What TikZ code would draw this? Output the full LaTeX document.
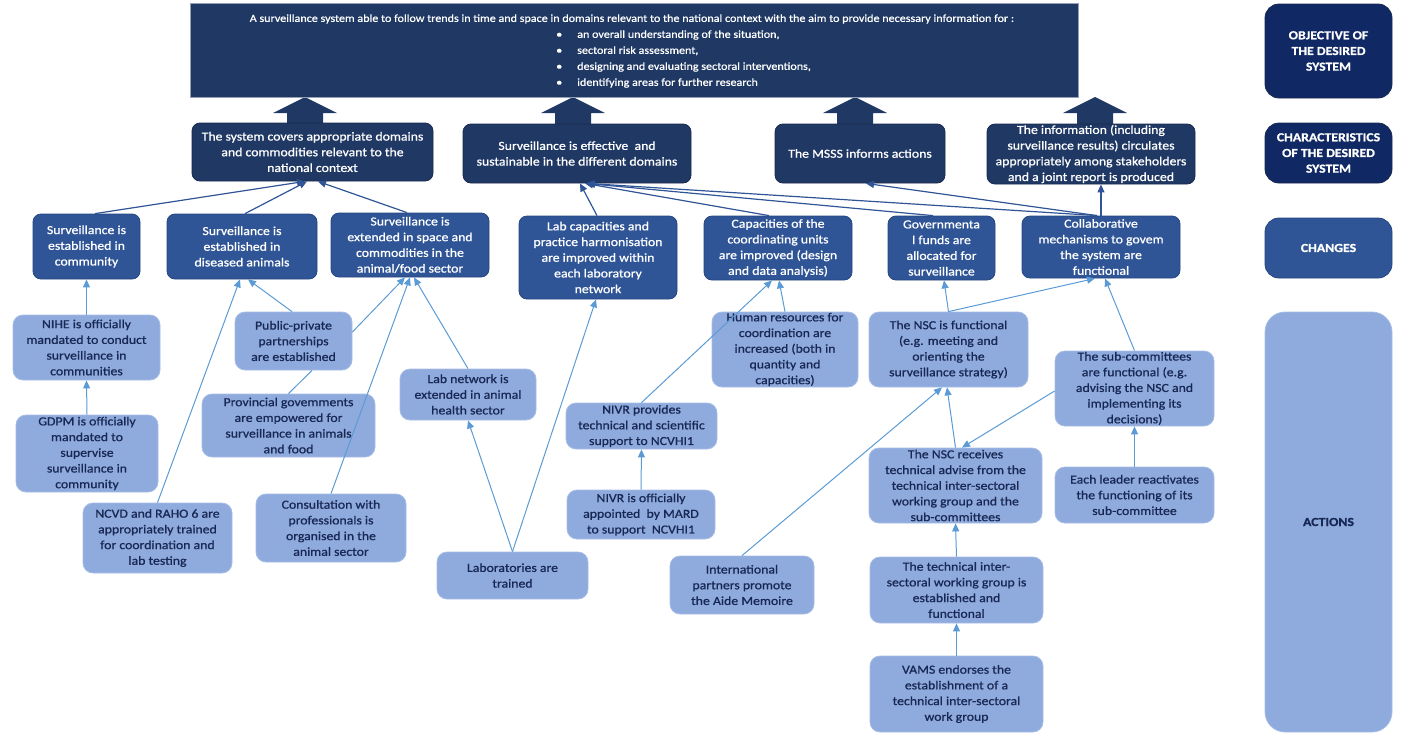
\documentclass[tikz,border=0pt]{standalone}
\usepackage{fontspec}
\setmainfont{Carlito}[FakeStretch=1.12, RawFeature={embolden=0.8}]
\usepackage{tikz}
\usepackage{xcolor}
\usetikzlibrary{arrows.meta}
\usetikzlibrary{positioning}

\begin{document}
\begin{tikzpicture}[x=1pt, y=-1pt,
		box/.style={rounded corners=8pt, align=center, inner sep=0pt, line width=0.8pt, font=\fontsize{12.3}{15.7}\selectfont},
		objbox/.style={box, rounded corners=0pt, fill=NAVY, draw=OBJ_EDGE, text=white},
		charbox/.style={box, fill=NAVY, draw=NAVY_EDGE, text=white},
		changebox/.style={box, fill=MID_BLUE, draw=MID_EDGE, text=white},
		actionbox/.style={box, rounded corners=10pt, fill=LIGHT_BLUE, draw=LIGHT_EDGE, text=DARK_TEXT},
		labelbox/.style={box, rounded corners=14pt, text=white, font=\fontsize{12.3}{15.7}\selectfont\bfseries},
		link/.style={-{Triangle[length=8pt, width=7pt]}, line width=1pt, color=LINE_BLUE},
		uplink/.style={-{Triangle[length=8pt, width=7pt]}, line width=1.2pt, color=UP_BLUE}]
				\definecolor{NAVY}{RGB}{32, 56, 100}
				\definecolor{NAVY_EDGE}{RGB}{24, 42, 78}
				\definecolor{OBJ_EDGE}{RGB}{150, 160, 180}
				\definecolor{LABEL_NAVY}{RGB}{16, 40, 100}
				\definecolor{MID_BLUE}{RGB}{47, 85, 151}
				\definecolor{MID_EDGE}{RGB}{38, 70, 128}
				\definecolor{LIGHT_BLUE}{RGB}{143, 170, 220}
				\definecolor{LIGHT_EDGE}{RGB}{166, 189, 230}
				\definecolor{DARK_TEXT}{RGB}{24, 40, 84}
				\definecolor{LINE_BLUE}{RGB}{91, 155, 213}
				\definecolor{UP_BLUE}{RGB}{47, 85, 151}
				\useasboundingbox (0,0) rectangle (1403,737);

				% block arrows up to the objective
				\foreach \xc in {305, 573, 855, 1095} {
					\fill[NAVY] (\xc-18,127) -- (\xc-18,113) -- (\xc-32,113) -- (\xc,97) -- (\xc+32,113) -- (\xc+18,113) -- (\xc+18,127) -- cycle;
				}

				% objective
				\node[objbox, minimum width=888pt, minimum height=94pt] (objective) at (634,50) {};
				\node[text=white, inner sep=0pt, font=\fontsize{10.8}{16}\selectfont] (objhead) at (632,19) {A surveillance system able to follow trends in time and space in domains relevant to the national context with the aim to provide necessary information for :};
				\node[text=white, inner sep=0pt, align=left, anchor=west, font=\fontsize{10.8}{16}\selectfont] (objlist) at (556,59) {\textbullet\hspace{15pt}an overall understanding of the situation,\\
					\textbullet\hspace{15pt}sectoral risk assessment,\\
					\textbullet\hspace{15pt}designing and evaluating sectoral interventions,\\
					\textbullet\hspace{15pt}identifying areas for further research};

				% right column
				\node[labelbox, fill=LABEL_NAVY, draw=NAVY_EDGE, minimum width=127pt, minimum height=94pt] (lobjective) at (1328.5,51) {OBJECTIVE OF\\THE DESIRED\\SYSTEM};
				\node[labelbox, fill=LABEL_NAVY, draw=NAVY_EDGE, minimum width=127pt, minimum height=60pt] (lcharacter) at (1328.5,153) {CHARACTERISTICS\\OF THE DESIRED\\SYSTEM};
				\node[labelbox, fill=MID_BLUE, draw=MID_EDGE, minimum width=127pt, minimum height=60pt] (lchanges) at (1328.5,248) {CHANGES};
				\node[labelbox, rounded corners=20pt, fill=LIGHT_BLUE, draw=LIGHT_EDGE, text=DARK_TEXT, minimum width=127pt, minimum height=420pt] (lactions) at (1328.5,522) {ACTIONS};

				% characteristics
				\node[charbox, minimum width=241pt, minimum height=58pt] (cover) at (312.5,152) {The system covers appropriate domains\\and commodities relevant to the\\national context};
				\node[charbox, minimum width=228pt, minimum height=59pt] (effect) at (577,153.5) {Surveillance is effective\ \ and\\sustainable in the different domains};
				\node[charbox, minimum width=170pt, minimum height=59pt] (msss) at (860,153.5) {The MSSS informs actions};
				\node[charbox, minimum width=208pt, minimum height=60pt] (info) at (1091,154) {The information (including\\surveillance results) circulates\\appropriately among stakeholders\\and a joint report is produced};

				% changes
				\node[changebox, minimum width=107pt, minimum height=65pt] (community) at (86.5,246.5) {Surveillance is\\established in\\community};
				\node[changebox, minimum width=150pt, minimum height=65pt] (diseased) at (242,246.5) {Surveillance is\\established in\\diseased animals};
				\node[changebox, minimum width=158pt, minimum height=64pt] (extended) at (410,245) {Surveillance is\\extended in space and\\commodities in the\\animal/food sector};
				\node[changebox, minimum width=158pt, minimum height=83pt] (labcap) at (598,257.5) {Lab capacities and\\practice harmonisation\\are improved within\\each laboratory\\network};
				\node[changebox, minimum width=148pt, minimum height=64pt] (coord) at (778,248) {Capacities of the\\coordinating units\\are improved (design\\and data analysis)};
				\node[changebox, minimum width=107pt, minimum height=64pt] (funds) at (941.5,248) {Governmenta\\l funds are\\allocated for\\surveillance};
				\node[changebox, minimum width=158pt, minimum height=62pt] (collab) at (1101,247) {Collaborative\\mechanisms to govem\\the system are\\functional};

				% actions
				\node[actionbox, minimum width=147pt, minimum height=65pt] (nihe) at (86.5,347.5) {NIHE is officially\\mandated to conduct\\surveillance in\\communities};
				\node[actionbox, minimum width=142pt, minimum height=77pt] (gdpm) at (87,453.5) {GDPM is officially\\mandated to\\supervise\\surveillance in\\community};
				\node[actionbox, minimum width=117pt, minimum height=58pt] (ppp) at (293.5,341) {Public-private\\partnerships\\are established};
				\node[actionbox, minimum width=173pt, minimum height=63pt] (provincial) at (288.5,425.5) {Provincial govemments\\are empowered for\\surveillance in animals\\and food};
				\node[actionbox, minimum width=136pt, minimum height=51pt] (labnet) at (468,394.5) {Lab network is\\extended in animal\\health sector};
				\node[actionbox, minimum width=149pt, minimum height=70pt] (ncvd) at (157.5,538) {NCVD and RAHO 6 are\\appropriately trained\\for coordination and\\lab testing};
				\node[actionbox, minimum width=150pt, minimum height=68pt] (consult) at (331,528) {Consultation with\\professionals is\\organised in the\\animal sector};
				\node[actionbox, minimum width=151pt, minimum height=47pt] (labtrain) at (512.5,575.5) {Laboratories are\\trained};
				\node[actionbox, minimum width=146pt, minimum height=75pt] (human) at (785,349.5) {Human resources for\\coordination are\\increased (both in\\quantity and\\capacities)};
				\node[actionbox, minimum width=151pt, minimum height=46pt] (nivrsup) at (641.5,426) {NIVR provides\\technical and scientific\\support to NCVHI1};
				\node[actionbox, minimum width=148pt, minimum height=49pt] (nivrapp) at (641,514.5) {NIVR is officially\\appointed\ \ by MARD\\to support\ \ NCVHI1};
				\node[actionbox, minimum width=144pt, minimum height=58pt] (intl) at (742,585) {International\\partners promote\\the Aide Memoire};
				\node[actionbox, minimum width=159pt, minimum height=75pt] (nsc) at (948.5,349.5) {The NSC is functional\\(e.g. meeting and\\orienting the\\surveillance strategy)};
				\node[actionbox, minimum width=159pt, minimum height=75pt] (subcom) at (1134.5,388.5) {The sub-committees\\are functional (e.g.\\advising the NSC and\\implementing its\\decisions)};
				\node[actionbox, minimum width=173pt, minimum height=75pt] (advise) at (955.5,485.5) {The NSC receives\\technical advise from the\\technical inter-sectoral\\working group and the\\sub-committees};
				\node[actionbox, minimum width=159pt, minimum height=56pt] (leader) at (1134.5,495) {Each leader reactivates\\the functioning of its\\sub-committee};
				\node[actionbox, minimum width=173pt, minimum height=66pt] (twg) at (956.5,590) {The technical inter-\\sectoral working group is\\established and\\functional};
				\node[actionbox, minimum width=173pt, minimum height=76pt] (vams) at (956.5,694) {VAMS endorses the\\establishment of a\\technical inter-sectoral\\work group};

				% changes to characteristics
				\draw[uplink] ([xshift=8.5pt]community.north) -- ([xshift=-7.5pt]cover.south);
				\draw[uplink] ([xshift=3pt]diseased.north) -- ([xshift=-5.5pt]cover.south);
				\draw[uplink] ([xshift=-3pt]extended.north) -- ([xshift=5.5pt]cover.south);
				\draw[uplink] ([xshift=-1pt]labcap.north) -- ([xshift=3pt]effect.south);
				\draw[uplink] ([xshift=-9pt]coord.north) -- ([xshift=8pt]effect.south);
				\draw[uplink] ([xshift=-8.5pt]funds.north) -- ([xshift=9pt]effect.south);
				\draw[uplink] ([xshift=-4pt]collab.north) -- ([xshift=10pt]effect.south);
				\draw[uplink] ([xshift=-4pt]collab.north) -- ([xshift=6pt]msss.south);
				\draw[uplink] (collab.north) -- ([xshift=10pt]info.south);

				% actions to changes
				\draw[link] (nihe.north) -- (community.south);
				\draw[link] (gdpm.north) -- (nihe.south);
				\draw[link] (ncvd.north) -- ([xshift=-2pt]diseased.south);
				\draw[link] ([xshift=-1.5pt]ppp.north) -- ([xshift=6pt]diseased.south);
				\draw[link] ([yshift=9pt]ppp.east) -- ([xshift=-5pt]extended.south);
				\draw[line width=1pt, color=LINE_BLUE] (provincial.north) -- ([xshift=18.5pt]ppp.south);
				\draw[link] (consult.north) -- (extended.south);
				\draw[link] (labnet.north) -- ([xshift=4pt]extended.south);
				\draw[link] (labtrain.north) -- (labnet.south);
				\draw[link] (labtrain.north) -- ([xshift=-2pt]labcap.south);
				\draw[link] (nivrsup.north) -- ([xshift=-6pt]coord.south);
				\draw[link] (human.north) -- ([xshift=1pt]coord.south);
				\draw[link] (nivrapp.north) -- (nivrsup.south);
				\draw[link] (nsc.north) -- ([xshift=2.5pt]funds.south);
				\draw[link] (nsc.north) -- ([xshift=-6pt]collab.south);
				\draw[link] (subcom.north) -- ([xshift=4pt]collab.south);
				\draw[link] (leader.north) -- (subcom.south);
				\draw[link] (advise.north) -- ([xshift=-1.5pt]nsc.south);
				\draw[link] ([yshift=-2.5pt]subcom.west) -- ([xshift=6.5pt]advise.north);
				\draw[link] (intl.north) -- ([xshift=-6.5pt]nsc.south);
				\draw[link] (twg.north) -- (advise.south);
				\draw[link] (vams.north) -- (twg.south);
			\end{tikzpicture}
\end{document}
